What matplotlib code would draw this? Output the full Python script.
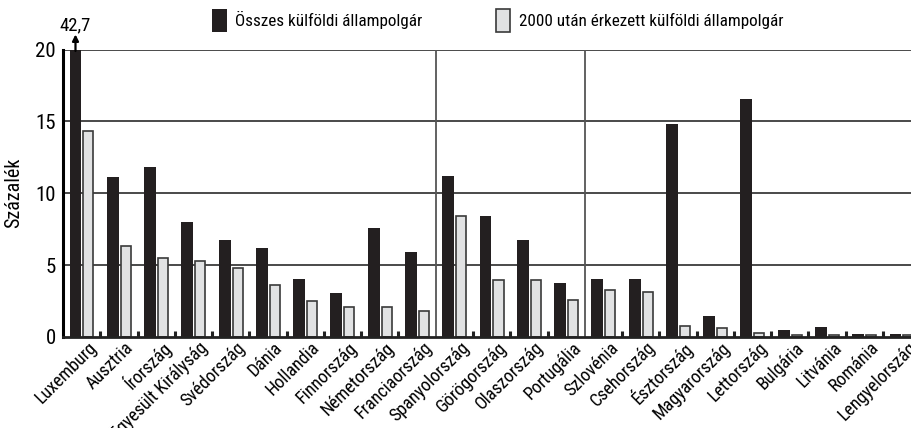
import matplotlib
matplotlib.use("Agg")
import matplotlib.pyplot as plt
import matplotlib.transforms as mtransforms
from matplotlib.patches import Patch
from matplotlib import font_manager
import numpy as np

_names = {f.name for f in font_manager.fontManager.ttflist}
chosen = "Roboto Condensed" if "Roboto Condensed" in _names else "Roboto"
plt.rcParams['font.family'] = [chosen, 'DejaVu Sans']

countries = ["Luxemburg", "Ausztria", "Írország", "Egyesült Királyság", "Svédország",
             "Dánia", "Hollandia", "Finnország", "Németország", "Franciaország",
             "Spanyolország", "Görögország", "Olaszország", "Portugália",
             "Szlovénia", "Csehország", "Észtország", "Magyarország", "Lettország",
             "Bulgária", "Litvánia", "Románia", "Lengyelország"]
osszes = [42.7, 11.14, 11.81, 8.03, 6.72, 6.17, 4.06, 3.03, 7.58, 5.94,
          11.21, 8.40, 6.77, 3.73,
          4.03, 4.04, 14.83, 1.45, 16.55, 0.50, 0.73, 0.20, 0.24]
uj2000 = [14.30, 6.33, 5.47, 5.31, 4.78, 3.59, 2.52, 2.10, 2.10, 1.83,
          8.42, 3.98, 3.96, 2.57,
          3.29, 3.12, 0.80, 0.61, 0.31, 0.17, 0.15, 0.15, 0.12]
series_labels = ["Összes külföldi állampolgár", "2000 után érkezett külföldi állampolgár"]
group_breaks = [9.5, 13.5]
yticks = [0, 5, 10, 15, 20]
ylabel = "Százalék"

black = "#231f20"
gray_fill = "#e1e2e3"
gray_edge = "#3a3a3a"

fs = 13 if chosen == "Roboto Condensed" else 10.5

fig = plt.figure(figsize=(9.11, 4.28), dpi=100)
ax = fig.add_axes([63/911, 1 - 337/428, 1 - 63/911, (337 - 49.5)/428])

x = np.arange(len(countries))
ax.set_xlim(-0.5, 22.25)
ax.set_ylim(0, 20)

for yv in yticks[1:]:
    ax.axhline(yv, color="#3c3c3c", lw=1.3, zorder=1)
for xb in group_breaks:
    ax.axvline(xb, ymin=0, ymax=1, color="#555555", lw=1.3, zorder=1)

ax.bar(x - 0.165, osszes, width=0.32, color=black, zorder=3, linewidth=0)
ax.bar(x + 0.183, uj2000, width=0.27, color=gray_fill, edgecolor=gray_edge,
       linewidth=1.2, zorder=3)

over = osszes[0]
ax.annotate("", xy=(x[0] - 0.165, 21.05), xytext=(x[0] - 0.165, 19.9),
            arrowprops=dict(arrowstyle="-|>", color="black", lw=1.6, mutation_scale=9,
                            shrinkA=0, shrinkB=0),
            annotation_clip=False, zorder=5)
ax.text(x[0] - 0.165, 21.3, f"{over:.1f}".replace(".", ","), ha="center", va="baseline",
        fontsize=fs + 0.5, clip_on=False)

for s in ["top", "right"]:
    ax.spines[s].set_visible(False)
ax.spines["left"].set_linewidth(2.2)
ax.spines["left"].set_color("black")
ax.spines["bottom"].set_linewidth(2.0)
ax.spines["bottom"].set_color("#222222")
ax.spines["left"].set_zorder(4)
ax.spines["bottom"].set_zorder(4)

ax.set_yticks(yticks)
ax.tick_params(axis="y", length=0, pad=5, labelsize=fs + 2)
ax.set_ylabel(ylabel, fontsize=fs + 1.5, labelpad=9)

ax.set_xticks(x)
ax.set_xticklabels(countries, rotation=45, ha="right", va="center",
                   rotation_mode="anchor", fontsize=fs)
ax.tick_params(axis="x", which="major", length=0, pad=0)
offset = mtransforms.ScaledTranslation(12/100, -8/100, fig.dpi_scale_trans)
for lab in ax.get_xticklabels():
    lab.set_transform(lab.get_transform() + offset)

bounds = [b for b in (x[:-1] + 0.5) if b not in group_breaks]
ax.set_xticks(bounds, minor=True)
ax.tick_params(axis="x", which="minor", direction="in", length=4.5, width=2.2,
               color="#222222")

handles = [Patch(facecolor=black, edgecolor=black, linewidth=0),
           Patch(facecolor=gray_fill, edgecolor=gray_edge, linewidth=1.2)]
fig.legend(handles, series_labels, loc="upper left", bbox_to_anchor=(212/911, 1 - 9/428),
           ncol=2, frameon=False, fontsize=fs - 0.7, handlelength=0.85, handleheight=1.7,
           handletextpad=0.5, columnspacing=4.3, borderpad=0, borderaxespad=0)

fig.savefig("out.png", dpi=100, facecolor="white")
